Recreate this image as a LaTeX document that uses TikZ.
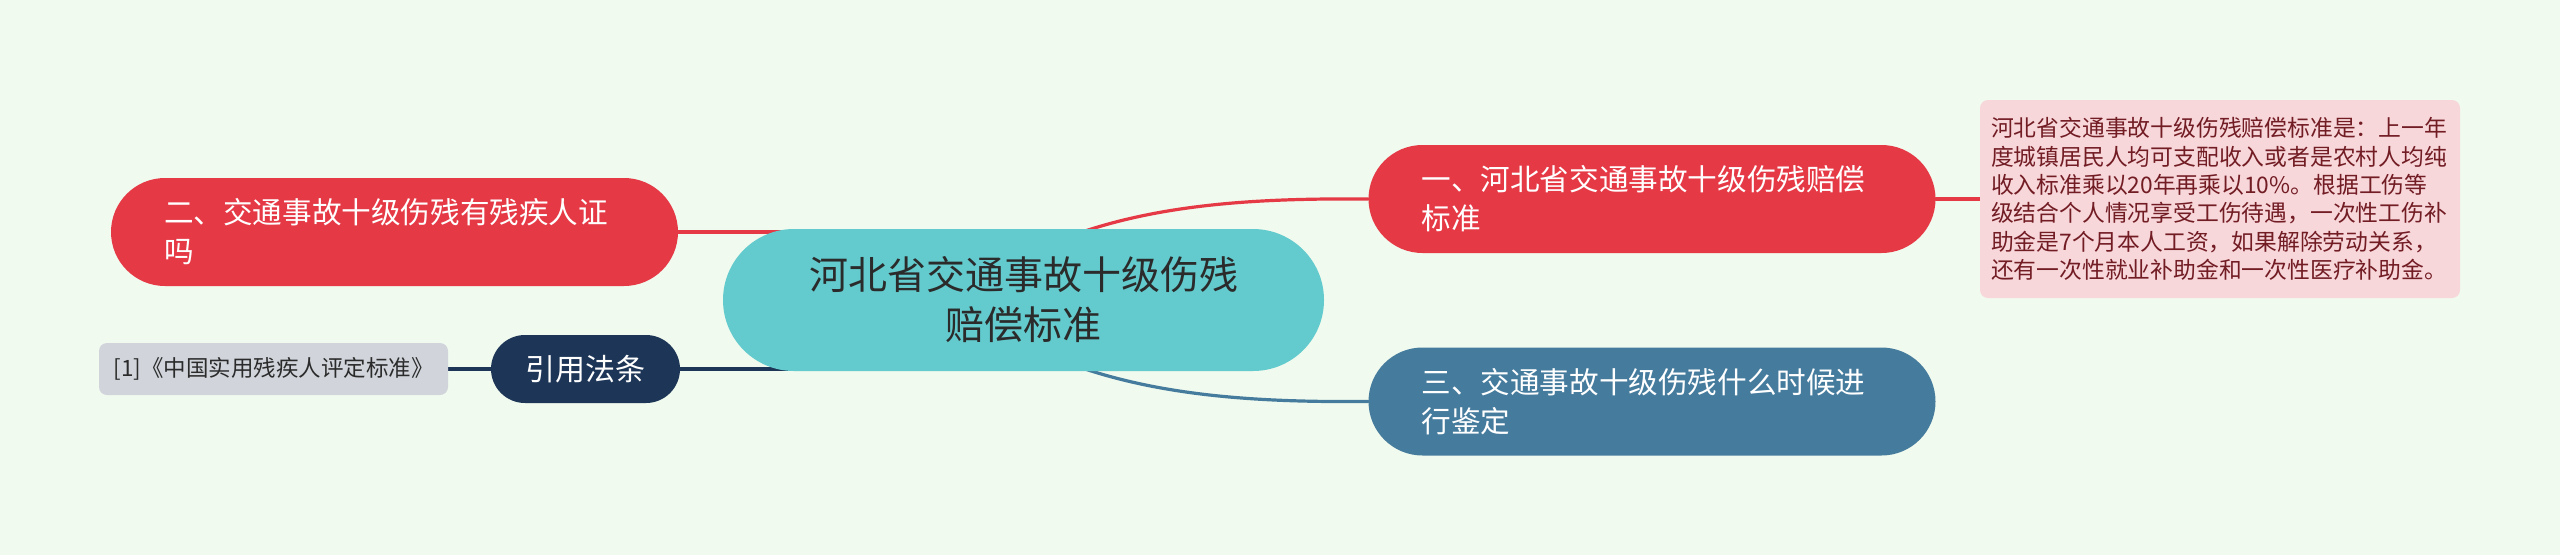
\documentclass[tikz,border=0pt]{standalone}
\usepackage{fontspec}
\newfontfamily\cjk{Noto Sans CJK SC}
\usetikzlibrary{calc}
\pgfdeclarelayer{back}
\pgfdeclarelayer{links}
\pgfsetlayers{back,links,main}
\definecolor{bgc}{HTML}{F1FAEE}
\definecolor{redc}{HTML}{E63946}
\definecolor{bluec}{HTML}{457B9D}
\definecolor{navyc}{HTML}{1D3557}
\definecolor{tealc}{HTML}{63CBCE}
\definecolor{pinkc}{HTML}{F8D7DA}
\definecolor{pinktxt}{HTML}{721C24}
\definecolor{grayc}{HTML}{D1D5DB}
\definecolor{darktxt}{HTML}{2B2B2B}
\tikzset{
  centerbox/.style={fill=tealc, rounded corners=71pt, minimum width=601pt, minimum height=142pt,
    inner sep=0pt, align=center, text=darktxt, font=\cjk\fontsize{39}{50}\selectfont},
  branchbox/.style={rounded corners=54pt, minimum height=108pt, text width=461pt, inner xsep=53pt,
    inner ysep=0pt, align=left, text=white, font=\cjk\fontsize{29.6}{39}\selectfont},
  citebox/.style={fill=navyc, rounded corners=34pt, minimum width=189pt, minimum height=68pt,
    inner sep=0pt, text=white, font=\cjk\fontsize{30}{38}\selectfont},
  refbox/.style={fill=grayc, rounded corners=8pt, minimum width=349pt, minimum height=52pt,
    inner sep=0pt, text=darktxt, font=\cjk\fontsize{22.5}{28}\selectfont},
  detailbox/.style={fill=pinkc, rounded corners=8pt, minimum height=198pt, text width=458pt,
    inner xsep=11pt, inner ysep=0pt, align=left, text=pinktxt, font=\cjk\fontsize{22.8}{28.4}\selectfont},
  link/.style={line width=3.2pt, line cap=round}
}
\begin{document}
\begin{tikzpicture}[x=1pt,y=-1pt]
\begin{pgfonlayer}{back}
\fill[bgc] (0,0) rectangle (2560,555);
\end{pgfonlayer}
\useasboundingbox (0,0) rectangle (2560,555);

\node[centerbox] (c) at (1023.5,300) {河北省交通事故十级伤残\\赔偿标准};
\node[branchbox, fill=redc] (n1) at (1652,199) {一、河北省交通事故十级伤残赔偿\\标准};
\node[branchbox, fill=redc] (n2) at (394.5,232) {二、交通事故十级伤残有残疾人证\\吗};
\node[branchbox, fill=bluec] (n3) at (1652,401.5) {三、交通事故十级伤残什么时候进\\行鉴定};
\node[citebox] (cite) at (585.5,369) {引用法条};
\node[refbox] (ref) at (273.5,369) {[1]《中国实用残疾人评定标准》};
\node[detailbox] (det) at (2220,199) {河北省交通事故十级伤残赔偿标准是：上一年\\度城镇居民人均可支配收入或者是农村人均纯\\收入标准乘以20年再乘以10\%。根据工伤等\\级结合个人情况享受工伤待遇，一次性工伤补\\助金是7个月本人工资，如果解除劳动关系，\\还有一次性就业补助金和一次性医疗补助金。};

\begin{pgfonlayer}{links}
\draw[link, redc] ($(c.north)+(37,11)$) .. controls ($(c.north)+(127,-24)$) and ($(n1.west)+(-118,-1)$) .. (n1.west);
\draw[link, bluec] ($(c.south)+(37,-11)$) .. controls ($(c.south)+(127,24)$) and ($(n3.west)+(-118,1)$) .. (n3.west);
\draw[link, redc] (n2.east) -- (c.center |- n2.east);
\draw[link, navyc] (cite.east) -- (c.center |- cite.east);
\draw[link, navyc] (ref.east) -- (cite.west);
\draw[link, redc] (n1.east) -- (det.west);
\end{pgfonlayer}
\end{tikzpicture}
\end{document}
